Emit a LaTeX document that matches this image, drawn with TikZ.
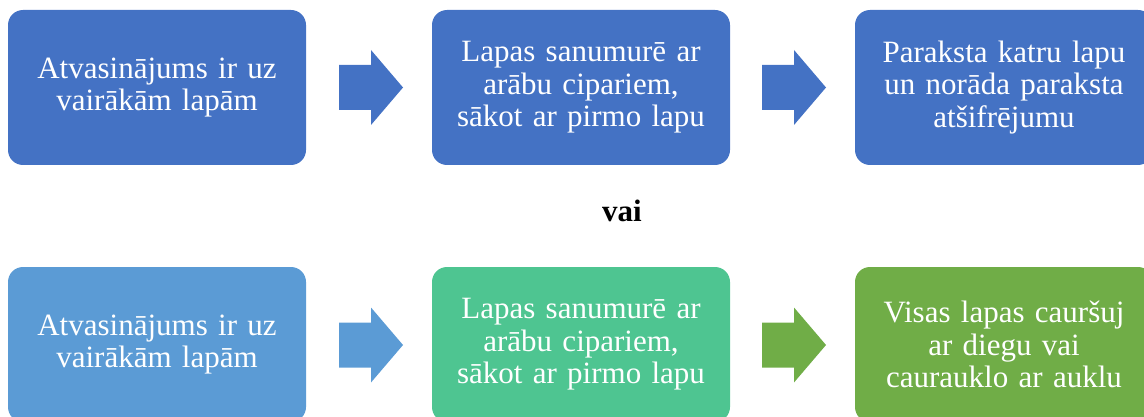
\documentclass[tikz,border=0pt]{standalone}
\usepackage{fontspec}
\setmainfont{Liberation Serif}
\usetikzlibrary{positioning}

\definecolor{darkblue}{HTML}{4472C4}
\definecolor{lightblue}{HTML}{5B9BD5}
\definecolor{teal}{HTML}{4EC591}
\definecolor{leafgreen}{HTML}{70AD47}

\tikzset{
  box/.style={rectangle, rounded corners=15pt, minimum width=298pt, minimum height=155pt,
    text width=280pt, align=center, text=white, inner sep=0pt,
    font=\fontsize{31}{32.5}\selectfont}
}

% block arrow: #1 = left end, #2 = colour
\newcommand\blockarrow[2]{%
  \fill[#2] (#1) ++(0,-22.5) -- ++(32,0) -- ++(0,-15) -- ++(32,37.5)
    -- ++(-32,37.5) -- ++(0,-15) -- ++(-32,0) -- cycle;}

\begin{document}
\begin{tikzpicture}[x=1pt,y=-1pt]
    \useasboundingbox (0,0) rectangle (1144,417);
    % first row
    \node[box, fill=darkblue] (a1) at (157,87.5) {Atvasinājums ir uz\\vairākām lapām};
    \node[box, fill=darkblue] (a2) at (581,87.5) {Lapas sanumurē ar\\arābu cipariem,\\sākot ar pirmo lapu};
    \node[box, fill=darkblue] (a3) at (1004,87.5) {Paraksta katru lapu\\un norāda paraksta\\atšifrējumu};
    \coordinate (p1) at (339,87.5);
    \coordinate (p2) at (762,87.5);
    \blockarrow{p1}{darkblue}
    \blockarrow{p2}{darkblue}
    % or
    \node[font=\bfseries\fontsize{31}{32}\selectfont, anchor=base] (vai) at (622,222) {vai};
    % second row
    \node[box, fill=lightblue] (b1) at (157,344.5) {Atvasinājums ir uz\\vairākām lapām};
    \node[box, fill=teal] (b2) at (581,344.5) {Lapas sanumurē ar\\arābu cipariem,\\sākot ar pirmo lapu};
    \node[box, fill=leafgreen] (b3) at (1004,344.5) {Visas lapas cauršuj\\ar diegu vai\\caurauklo ar auklu};
    \coordinate (q1) at (339,345);
    \coordinate (q2) at (762,345);
    \blockarrow{q1}{lightblue}
    \blockarrow{q2}{leafgreen}
\end{tikzpicture}
\end{document}
